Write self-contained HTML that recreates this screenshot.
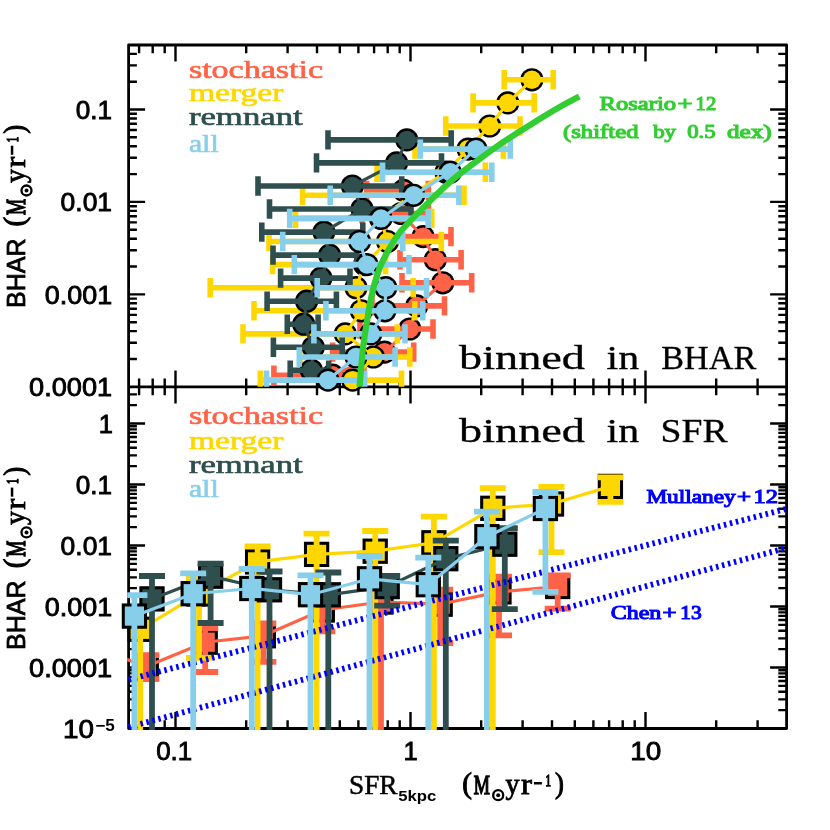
<!DOCTYPE html>
<html><head><meta charset="utf-8"><title>BHAR vs SFR</title>
<style>html,body{margin:0;padding:0;background:#fff}svg{display:block}text{font-family:"Liberation Sans",sans-serif}.sb{font-family:"Liberation Serif",serif;font-weight:bold}.sr{font-family:"Liberation Serif",serif}.nb{font-family:"Liberation Sans",sans-serif;font-weight:bold}</style></head><body>
<svg width="830" height="830" viewBox="0 0 830 830" style="will-change:transform">
<rect width="830" height="830" fill="#fff"/>
<defs><clipPath id="cu"><rect x="127.19999999999999" y="45.0" width="660.8" height="341.7"/></clipPath><clipPath id="cl"><rect x="127.19999999999999" y="386.9" width="660.8" height="343.0"/></clipPath></defs>
<path d="M128.6 45.0H786.6V728.5H128.6Z M128.6 386.9H786.6" stroke="#000" stroke-width="2.8" fill="none" stroke-linejoin="round"/>
<path d="M175.5 45.0v16.5M175.5 370.4v33.0M175.5 728.5v-16.5M410.5 45.0v16.5M410.5 370.4v33.0M410.5 728.5v-16.5M645.5 45.0v16.5M645.5 370.4v33.0M645.5 728.5v-16.5M128.6 294.4h16.5M786.6 294.4h-16.5M128.6 201.9h16.5M786.6 201.9h-16.5M128.6 109.5h16.5M786.6 109.5h-16.5M128.6 667.5h16.5M786.6 667.5h-16.5M128.6 606.5h16.5M786.6 606.5h-16.5M128.6 545.5h16.5M786.6 545.5h-16.5M128.6 484.5h16.5M786.6 484.5h-16.5M128.6 423.5h16.5M786.6 423.5h-16.5" stroke="#000" stroke-width="2.4" fill="none"/>
<path d="M139.1 45.0v8.3M139.1 378.6v16.6M139.1 728.5v-8.3M152.7 45.0v8.3M152.7 378.6v16.6M152.7 728.5v-8.3M164.7 45.0v8.3M164.7 378.6v16.6M164.7 728.5v-8.3M246.2 45.0v8.3M246.2 378.6v16.6M246.2 728.5v-8.3M287.6 45.0v8.3M287.6 378.6v16.6M287.6 728.5v-8.3M317.0 45.0v8.3M317.0 378.6v16.6M317.0 728.5v-8.3M339.8 45.0v8.3M339.8 378.6v16.6M339.8 728.5v-8.3M358.4 45.0v8.3M358.4 378.6v16.6M358.4 728.5v-8.3M374.1 45.0v8.3M374.1 378.6v16.6M374.1 728.5v-8.3M387.7 45.0v8.3M387.7 378.6v16.6M387.7 728.5v-8.3M399.7 45.0v8.3M399.7 378.6v16.6M399.7 728.5v-8.3M481.2 45.0v8.3M481.2 378.6v16.6M481.2 728.5v-8.3M522.6 45.0v8.3M522.6 378.6v16.6M522.6 728.5v-8.3M552.0 45.0v8.3M552.0 378.6v16.6M552.0 728.5v-8.3M574.8 45.0v8.3M574.8 378.6v16.6M574.8 728.5v-8.3M593.4 45.0v8.3M593.4 378.6v16.6M593.4 728.5v-8.3M609.1 45.0v8.3M609.1 378.6v16.6M609.1 728.5v-8.3M622.7 45.0v8.3M622.7 378.6v16.6M622.7 728.5v-8.3M634.7 45.0v8.3M634.7 378.6v16.6M634.7 728.5v-8.3M716.2 45.0v8.3M716.2 378.6v16.6M716.2 728.5v-8.3M757.6 45.0v8.3M757.6 378.6v16.6M757.6 728.5v-8.3M128.6 359.0h8.3M786.6 359.0h-8.3M128.6 342.7h8.3M786.6 342.7h-8.3M128.6 331.1h8.3M786.6 331.1h-8.3M128.6 322.2h8.3M786.6 322.2h-8.3M128.6 314.9h8.3M786.6 314.9h-8.3M128.6 308.7h8.3M786.6 308.7h-8.3M128.6 303.3h8.3M786.6 303.3h-8.3M128.6 298.6h8.3M786.6 298.6h-8.3M128.6 266.5h8.3M786.6 266.5h-8.3M128.6 250.3h8.3M786.6 250.3h-8.3M128.6 238.7h8.3M786.6 238.7h-8.3M128.6 229.8h8.3M786.6 229.8h-8.3M128.6 222.4h8.3M786.6 222.4h-8.3M128.6 216.2h8.3M786.6 216.2h-8.3M128.6 210.9h8.3M786.6 210.9h-8.3M128.6 206.2h8.3M786.6 206.2h-8.3M128.6 174.1h8.3M786.6 174.1h-8.3M128.6 157.8h8.3M786.6 157.8h-8.3M128.6 146.3h8.3M786.6 146.3h-8.3M128.6 137.3h8.3M786.6 137.3h-8.3M128.6 130.0h8.3M786.6 130.0h-8.3M128.6 123.8h8.3M786.6 123.8h-8.3M128.6 118.5h8.3M786.6 118.5h-8.3M128.6 113.7h8.3M786.6 113.7h-8.3M128.6 81.7h8.3M786.6 81.7h-8.3M128.6 65.4h8.3M786.6 65.4h-8.3M128.6 53.9h8.3M786.6 53.9h-8.3M128.6 710.1h8.3M786.6 710.1h-8.3M128.6 699.4h8.3M786.6 699.4h-8.3M128.6 691.8h8.3M786.6 691.8h-8.3M128.6 685.9h8.3M786.6 685.9h-8.3M128.6 681.0h8.3M786.6 681.0h-8.3M128.6 676.9h8.3M786.6 676.9h-8.3M128.6 673.4h8.3M786.6 673.4h-8.3M128.6 670.3h8.3M786.6 670.3h-8.3M128.6 649.1h8.3M786.6 649.1h-8.3M128.6 638.4h8.3M786.6 638.4h-8.3M128.6 630.8h8.3M786.6 630.8h-8.3M128.6 624.9h8.3M786.6 624.9h-8.3M128.6 620.0h8.3M786.6 620.0h-8.3M128.6 615.9h8.3M786.6 615.9h-8.3M128.6 612.4h8.3M786.6 612.4h-8.3M128.6 609.3h8.3M786.6 609.3h-8.3M128.6 588.1h8.3M786.6 588.1h-8.3M128.6 577.4h8.3M786.6 577.4h-8.3M128.6 569.8h8.3M786.6 569.8h-8.3M128.6 563.9h8.3M786.6 563.9h-8.3M128.6 559.0h8.3M786.6 559.0h-8.3M128.6 554.9h8.3M786.6 554.9h-8.3M128.6 551.4h8.3M786.6 551.4h-8.3M128.6 548.3h8.3M786.6 548.3h-8.3M128.6 527.1h8.3M786.6 527.1h-8.3M128.6 516.4h8.3M786.6 516.4h-8.3M128.6 508.8h8.3M786.6 508.8h-8.3M128.6 502.9h8.3M786.6 502.9h-8.3M128.6 498.0h8.3M786.6 498.0h-8.3M128.6 493.9h8.3M786.6 493.9h-8.3M128.6 490.4h8.3M786.6 490.4h-8.3M128.6 487.3h8.3M786.6 487.3h-8.3M128.6 466.1h8.3M786.6 466.1h-8.3M128.6 455.4h8.3M786.6 455.4h-8.3M128.6 447.8h8.3M786.6 447.8h-8.3M128.6 441.9h8.3M786.6 441.9h-8.3M128.6 437.0h8.3M786.6 437.0h-8.3M128.6 432.9h8.3M786.6 432.9h-8.3M128.6 429.4h8.3M786.6 429.4h-8.3M128.6 426.3h8.3M786.6 426.3h-8.3M128.6 405.1h8.3M786.6 405.1h-8.3M128.6 394.4h8.3M786.6 394.4h-8.3" stroke="#000" stroke-width="2.4" fill="none"/>
<text class="sr" x="188.9" y="77.9" font-size="26" fill="#FF6347" stroke="#FF6347" stroke-width="0.65" textLength="134.2" lengthAdjust="spacingAndGlyphs">stochastic</text>
<text class="sr" x="188.9" y="101.4" font-size="26" fill="#FFD700" stroke="#FFD700" stroke-width="0.65" textLength="94.6" lengthAdjust="spacingAndGlyphs">merger</text>
<text class="sr" x="188.9" y="124.7" font-size="26" fill="#2F4F4F" stroke="#2F4F4F" stroke-width="0.65" textLength="113.8" lengthAdjust="spacingAndGlyphs">remnant</text>
<text class="sr" x="188.9" y="152.1" font-size="26" fill="#87CEEB" stroke="#87CEEB" stroke-width="0.65" textLength="29.8" lengthAdjust="spacingAndGlyphs">all</text>
<text class="sr" x="188.9" y="424.2" font-size="26" fill="#FF6347" stroke="#FF6347" stroke-width="0.65" textLength="134.2" lengthAdjust="spacingAndGlyphs">stochastic</text>
<text class="sr" x="188.9" y="448.5" font-size="26" fill="#FFD700" stroke="#FFD700" stroke-width="0.65" textLength="94.6" lengthAdjust="spacingAndGlyphs">merger</text>
<text class="sr" x="188.9" y="472.6" font-size="26" fill="#2F4F4F" stroke="#2F4F4F" stroke-width="0.65" textLength="113.8" lengthAdjust="spacingAndGlyphs">remnant</text>
<text class="sr" x="188.9" y="497.4" font-size="26" fill="#87CEEB" stroke="#87CEEB" stroke-width="0.65" textLength="29.8" lengthAdjust="spacingAndGlyphs">all</text>
<text class="sr" x="599.6" y="110.2" font-size="19" fill="#32CD32" stroke="#32CD32" stroke-width="1.1" textLength="76.5" lengthAdjust="spacingAndGlyphs">Rosario</text>
<text class="sr" x="677.6" y="110.2" font-size="19" fill="#32CD32" stroke="#32CD32" stroke-width="1.1" textLength="15.0" lengthAdjust="spacingAndGlyphs">+</text>
<text class="sr" x="695.6" y="110.2" font-size="19" fill="#32CD32" stroke="#32CD32" stroke-width="1.1" textLength="20.6" lengthAdjust="spacingAndGlyphs">12</text>
<text class="sr" x="563.0" y="137.6" font-size="19" fill="#32CD32" stroke="#32CD32" stroke-width="1.1" textLength="75.5" lengthAdjust="spacingAndGlyphs">(shifted</text>
<text class="sr" x="653.2" y="137.6" font-size="19" fill="#32CD32" stroke="#32CD32" stroke-width="1.1" textLength="22.8" lengthAdjust="spacingAndGlyphs">by</text>
<text class="sr" x="687.2" y="137.6" font-size="19" fill="#32CD32" stroke="#32CD32" stroke-width="1.1" textLength="28.4" lengthAdjust="spacingAndGlyphs">0.5</text>
<text class="sr" x="727.0" y="137.6" font-size="19" fill="#32CD32" stroke="#32CD32" stroke-width="1.1" textLength="44.6" lengthAdjust="spacingAndGlyphs">dex)</text>
<text class="sr" x="646.4" y="502.9" font-size="19" fill="#0000FF" stroke="#0000FF" stroke-width="1.1" textLength="89.3" lengthAdjust="spacingAndGlyphs">Mullaney</text>
<text class="sr" x="737.0" y="502.9" font-size="19" fill="#0000FF" stroke="#0000FF" stroke-width="1.1" textLength="14.0" lengthAdjust="spacingAndGlyphs">+</text>
<text class="sr" x="753.6" y="502.9" font-size="19" fill="#0000FF" stroke="#0000FF" stroke-width="1.1" textLength="24.4" lengthAdjust="spacingAndGlyphs">12</text>
<text class="sr" x="610.8" y="619.0" font-size="19" fill="#0000FF" stroke="#0000FF" stroke-width="1.1" textLength="50.5" lengthAdjust="spacingAndGlyphs">Chen</text>
<text class="sr" x="662.6" y="619.0" font-size="19" fill="#0000FF" stroke="#0000FF" stroke-width="1.1" textLength="14.0" lengthAdjust="spacingAndGlyphs">+</text>
<text class="sr" x="680.3" y="619.0" font-size="19" fill="#0000FF" stroke="#0000FF" stroke-width="1.1" textLength="21.4" lengthAdjust="spacingAndGlyphs">13</text>
<text class="sr" x="459.0" y="368.7" font-size="34.5" fill="#000" stroke="#000" stroke-width="0.3" textLength="126.0" lengthAdjust="spacingAndGlyphs">binned</text>
<text class="sr" x="606.6" y="368.7" font-size="34.5" fill="#000" stroke="#000" stroke-width="0.3" textLength="32.6" lengthAdjust="spacingAndGlyphs">in</text>
<text class="sr" x="661.2" y="368.7" font-size="34.5" fill="#000" stroke="#000" stroke-width="0.3" textLength="95.0" lengthAdjust="spacingAndGlyphs">BHAR</text>
<text class="sr" x="459.0" y="442.0" font-size="34.5" fill="#000" stroke="#000" stroke-width="0.3" textLength="126.0" lengthAdjust="spacingAndGlyphs">binned</text>
<text class="sr" x="606.6" y="442.0" font-size="34.5" fill="#000" stroke="#000" stroke-width="0.3" textLength="32.6" lengthAdjust="spacingAndGlyphs">in</text>
<text class="sr" x="660.5" y="442.0" font-size="34.5" fill="#000" stroke="#000" stroke-width="0.3" textLength="67.0" lengthAdjust="spacingAndGlyphs">SFR</text>
<text x="75.8" y="118.7" font-size="25.5" fill="#000" stroke="#000" stroke-width="0.85" textLength="36.3" lengthAdjust="spacingAndGlyphs">0.1</text>
<text x="60.6" y="211.1" font-size="25.5" fill="#000" stroke="#000" stroke-width="0.85" textLength="51.5" lengthAdjust="spacingAndGlyphs">0.01</text>
<text x="44.8" y="303.6" font-size="25.5" fill="#000" stroke="#000" stroke-width="0.85" textLength="67.3" lengthAdjust="spacingAndGlyphs">0.001</text>
<text x="29.1" y="396.1" font-size="25.5" fill="#000" stroke="#000" stroke-width="0.85" textLength="83.0" lengthAdjust="spacingAndGlyphs">0.0001</text>
<text x="98.7" y="433.0" font-size="25.5" fill="#000" stroke="#000" stroke-width="0.85">1</text>
<text x="75.8" y="493.7" font-size="25.5" fill="#000" stroke="#000" stroke-width="0.85" textLength="36.3" lengthAdjust="spacingAndGlyphs">0.1</text>
<text x="60.6" y="554.7" font-size="25.5" fill="#000" stroke="#000" stroke-width="0.85" textLength="51.5" lengthAdjust="spacingAndGlyphs">0.01</text>
<text x="44.8" y="615.7" font-size="25.5" fill="#000" stroke="#000" stroke-width="0.85" textLength="67.3" lengthAdjust="spacingAndGlyphs">0.001</text>
<text x="29.1" y="677.1" font-size="25.5" fill="#000" stroke="#000" stroke-width="0.85" textLength="83.0" lengthAdjust="spacingAndGlyphs">0.0001</text>
<text x="63.0" y="738.2" font-size="25.5" fill="#000" stroke="#000" stroke-width="0.85" textLength="31" lengthAdjust="spacingAndGlyphs">10</text>
<text class="nb" x="95.2" y="730.6" font-size="16" fill="#000" textLength="19.5" lengthAdjust="spacingAndGlyphs">−5</text>
<text x="156.2" y="760.2" font-size="25.5" fill="#000" stroke="#000" stroke-width="0.85" textLength="36" lengthAdjust="spacingAndGlyphs">0.1</text>
<text x="403.4" y="760.2" font-size="25.5" fill="#000" stroke="#000" stroke-width="0.85">1</text>
<text x="630.2" y="760.2" font-size="25.5" fill="#000" stroke="#000" stroke-width="0.85" textLength="31" lengthAdjust="spacingAndGlyphs">10</text>
<g transform="translate(24.1 306.7) rotate(-90)">
<text x="-1.3" y="0.7" font-size="26" stroke="#000" stroke-width="0.8" textLength="69.5" lengthAdjust="spacingAndGlyphs">BHAR</text>
<text class="sr" transform="translate(85.1 0.3) scale(1.0 1)" text-anchor="middle" font-size="29" stroke="#000" stroke-width="1.0">(</text>
<text class="sr" transform="translate(99.8 0.7) scale(0.66 1)" text-anchor="middle" font-size="27.5" stroke="#000" stroke-width="1.5">M</text>
<circle cx="116.2" cy="2.4" r="5.0" fill="none" stroke="#000" stroke-width="2.3"/><circle cx="116.2" cy="2.4" r="2.0" fill="#000"/>
<text class="sr" transform="translate(130.6 0.7) scale(0.98 1)" text-anchor="middle" font-size="28.5" stroke="#000" stroke-width="0.8">y</text>
<text class="sr" transform="translate(144.4 0.7) scale(1.16 1)" text-anchor="middle" font-size="28.5" stroke="#000" stroke-width="0.8">r</text>
<rect x="151.9" y="-13.3" width="9.1" height="2.5" fill="#000"/>
<text class="sr" transform="translate(167.2 -6.4) scale(0.66 1)" text-anchor="middle" font-size="16.5" stroke="#000" stroke-width="1.4">1</text>
<text class="sr" transform="translate(177.4 0.3) scale(0.92 1)" text-anchor="middle" font-size="29" stroke="#000" stroke-width="1.0">)</text>
</g>
<g transform="translate(24.1 648.6) rotate(-90)">
<text x="-1.3" y="0.7" font-size="26" stroke="#000" stroke-width="0.8" textLength="69.5" lengthAdjust="spacingAndGlyphs">BHAR</text>
<text class="sr" transform="translate(85.1 0.3) scale(1.0 1)" text-anchor="middle" font-size="29" stroke="#000" stroke-width="1.0">(</text>
<text class="sr" transform="translate(99.8 0.7) scale(0.66 1)" text-anchor="middle" font-size="27.5" stroke="#000" stroke-width="1.5">M</text>
<circle cx="116.2" cy="2.4" r="5.0" fill="none" stroke="#000" stroke-width="2.3"/><circle cx="116.2" cy="2.4" r="2.0" fill="#000"/>
<text class="sr" transform="translate(130.6 0.7) scale(0.98 1)" text-anchor="middle" font-size="28.5" stroke="#000" stroke-width="0.8">y</text>
<text class="sr" transform="translate(144.4 0.7) scale(1.16 1)" text-anchor="middle" font-size="28.5" stroke="#000" stroke-width="0.8">r</text>
<rect x="151.9" y="-13.3" width="9.1" height="2.5" fill="#000"/>
<text class="sr" transform="translate(167.2 -6.4) scale(0.66 1)" text-anchor="middle" font-size="16.5" stroke="#000" stroke-width="1.4">1</text>
<text class="sr" transform="translate(177.4 0.3) scale(0.92 1)" text-anchor="middle" font-size="29" stroke="#000" stroke-width="1.0">)</text>
</g>
<text class="sr" x="349.0" y="793.5" font-size="26.5" textLength="48.5" lengthAdjust="spacingAndGlyphs" stroke="#000" stroke-width="0.5">SFR</text>
<text class="nb" x="398.2" y="800.9" font-size="15" textLength="38.2" lengthAdjust="spacingAndGlyphs">5kpc</text>
<g transform="translate(382.0 792.8)">
<text class="sr" transform="translate(85.1 0.3) scale(1.0 1)" text-anchor="middle" font-size="29" stroke="#000" stroke-width="1.0">(</text>
<text class="sr" transform="translate(99.8 0.7) scale(0.66 1)" text-anchor="middle" font-size="27.5" stroke="#000" stroke-width="1.5">M</text>
<circle cx="116.2" cy="2.4" r="5.0" fill="none" stroke="#000" stroke-width="2.3"/><circle cx="116.2" cy="2.4" r="2.0" fill="#000"/>
<text class="sr" transform="translate(130.6 0.7) scale(0.98 1)" text-anchor="middle" font-size="28.5" stroke="#000" stroke-width="0.8">y</text>
<text class="sr" transform="translate(144.4 0.7) scale(1.16 1)" text-anchor="middle" font-size="28.5" stroke="#000" stroke-width="0.8">r</text>
<rect x="151.9" y="-10.8" width="8.0" height="2.5" fill="#000"/>
<text class="sr" transform="translate(166.1 -6.4) scale(0.66 1)" text-anchor="middle" font-size="16.5" stroke="#000" stroke-width="1.4">1</text>
<text class="sr" transform="translate(177.4 0.3) scale(0.92 1)" text-anchor="middle" font-size="29" stroke="#000" stroke-width="1.0">)</text>
</g>
<rect x="133.65" y="653.95" width="25.3" height="25.3" fill="#000"/>
<rect x="136.7" y="657.0" width="19.2" height="19.2" fill="#FF6347"/>
<rect x="192.55" y="629.55" width="25.3" height="25.3" fill="#000"/>
<rect x="195.6" y="632.6" width="19.2" height="19.2" fill="#FF6347"/>
<rect x="250.65" y="623.15" width="25.3" height="25.3" fill="#000"/>
<rect x="253.7" y="626.2" width="19.2" height="19.2" fill="#FF6347"/>
<rect x="309.65" y="597.35" width="25.3" height="25.3" fill="#000"/>
<rect x="312.7" y="600.4" width="19.2" height="19.2" fill="#FF6347"/>
<rect x="368.35" y="589.35" width="25.3" height="25.3" fill="#000"/>
<rect x="371.4" y="592.4" width="19.2" height="19.2" fill="#FF6347"/>
<rect x="427.55" y="591.55" width="25.3" height="25.3" fill="#000"/>
<rect x="430.6" y="594.6" width="19.2" height="19.2" fill="#FF6347"/>
<rect x="486.35" y="579.25" width="25.3" height="25.3" fill="#000"/>
<rect x="489.4" y="582.3" width="19.2" height="19.2" fill="#FF6347"/>
<rect x="545.05" y="573.85" width="25.3" height="25.3" fill="#000"/>
<rect x="548.1" y="576.9" width="19.2" height="19.2" fill="#FF6347"/>
<g clip-path="url(#cl)"><path d="M146.3 655.1V679.1M133.3 655.1H159.3M133.3 679.1H159.3M205.2 628.2V672.0M192.2 628.2H218.2M192.2 672.0H218.2M263.3 623.5V661.9M250.3 623.5H276.3M250.3 661.9H276.3M322.3 598.0V631.4M309.3 598.0H335.3M309.3 631.4H335.3M381.0 592.0V740.0M368.0 592.0H394.0M440.2 589.7V643.0M427.2 589.7H453.2M427.2 643.0H453.2M499.0 576.6V635.3M486.0 576.6H512.0M486.0 635.3H512.0M557.7 575.3V608.6M544.7 575.3H570.7M544.7 608.6H570.7" stroke="#FF6347" stroke-width="5.8" fill="none"/>
<polyline points="87.5,644.9 146.3,666.6 205.2,642.2 263.3,635.8 322.3,610.0 381.0,602.0 440.2,604.2 499.0,591.9 557.7,586.5" stroke="#FF6347" stroke-width="3.2" fill="none"/></g>
<rect x="127.55" y="616.65" width="25.3" height="25.3" fill="#000"/>
<rect x="130.6" y="619.7" width="19.2" height="19.2" fill="#FFD700"/>
<rect x="186.35" y="581.35" width="25.3" height="25.3" fill="#000"/>
<rect x="189.4" y="584.4" width="19.2" height="19.2" fill="#FFD700"/>
<rect x="244.95" y="549.25" width="25.3" height="25.3" fill="#000"/>
<rect x="248.0" y="552.3" width="19.2" height="19.2" fill="#FFD700"/>
<rect x="303.95" y="541.75" width="25.3" height="25.3" fill="#000"/>
<rect x="307.0" y="544.8" width="19.2" height="19.2" fill="#FFD700"/>
<rect x="362.55" y="538.55" width="25.3" height="25.3" fill="#000"/>
<rect x="365.6" y="541.6" width="19.2" height="19.2" fill="#FFD700"/>
<rect x="421.25" y="530.15" width="25.3" height="25.3" fill="#000"/>
<rect x="424.3" y="533.2" width="19.2" height="19.2" fill="#FFD700"/>
<rect x="480.15" y="495.65" width="25.3" height="25.3" fill="#000"/>
<rect x="483.2" y="498.7" width="19.2" height="19.2" fill="#FFD700"/>
<rect x="538.85" y="491.35" width="25.3" height="25.3" fill="#000"/>
<rect x="541.9" y="494.4" width="19.2" height="19.2" fill="#FFD700"/>
<rect x="597.75" y="473.75" width="25.3" height="25.3" fill="#000"/>
<rect x="600.8" y="476.8" width="19.2" height="19.2" fill="#FFD700"/>
<g clip-path="url(#cl)"><path d="M140.2 608.0V740.0M127.2 608.0H153.2M199.0 578.5V657.8M186.0 578.5H212.0M186.0 657.8H212.0M257.6 546.4V740.0M244.6 546.4H270.6M316.6 533.6V740.0M303.6 533.6H329.6M375.2 531.0V740.0M362.2 531.0H388.2M433.9 516.6V740.0M420.9 516.6H446.9M492.8 488.1V740.0M479.8 488.1H505.8M551.5 487.0V552.1M538.5 487.0H564.5M538.5 552.1H564.5M610.4 477.3V501.9M597.4 477.3H623.4M597.4 501.9H623.4" stroke="#FFD700" stroke-width="5.8" fill="none"/>
<polyline points="140.2,629.3 199.0,594.0 257.6,561.9 316.6,554.4 375.2,551.2 433.9,542.8 492.8,508.3 551.5,504.0 610.4,486.4" stroke="#FFD700" stroke-width="3.2" fill="none"/></g>
<rect x="139.35" y="586.25" width="25.3" height="25.3" fill="#000"/>
<rect x="142.4" y="589.3" width="19.2" height="19.2" fill="#2F4F4F"/>
<rect x="197.95" y="563.55" width="25.3" height="25.3" fill="#000"/>
<rect x="201.0" y="566.6" width="19.2" height="19.2" fill="#2F4F4F"/>
<rect x="256.85" y="577.15" width="25.3" height="25.3" fill="#000"/>
<rect x="259.9" y="580.2" width="19.2" height="19.2" fill="#2F4F4F"/>
<rect x="315.65" y="582.15" width="25.3" height="25.3" fill="#000"/>
<rect x="318.7" y="585.2" width="19.2" height="19.2" fill="#2F4F4F"/>
<rect x="374.55" y="573.95" width="25.3" height="25.3" fill="#000"/>
<rect x="377.6" y="577.0" width="19.2" height="19.2" fill="#2F4F4F"/>
<rect x="433.15" y="546.05" width="25.3" height="25.3" fill="#000"/>
<rect x="436.2" y="549.1" width="19.2" height="19.2" fill="#2F4F4F"/>
<rect x="492.15" y="531.55" width="25.3" height="25.3" fill="#000"/>
<rect x="495.2" y="534.6" width="19.2" height="19.2" fill="#2F4F4F"/>
<g clip-path="url(#cl)"><path d="M152.0 576.0V740.0M139.0 576.0H165.0M210.6 563.7V623.0M197.6 563.7H223.6M197.6 623.0H223.6M269.5 571.5V740.0M256.5 571.5H282.5M328.3 572.5V740.0M315.3 572.5H341.3M387.2 576.0V605.7M374.2 576.0H400.2M374.2 605.7H400.2M445.8 540.7V740.0M432.8 540.7H458.8M504.8 528.2V609.2M491.8 528.2H517.8M491.8 609.2H517.8" stroke="#2F4F4F" stroke-width="5.8" fill="none"/>
<polyline points="152.0,598.9 210.6,576.2 269.5,589.8 328.3,594.8 387.2,586.6 445.8,558.7 504.8,544.2" stroke="#2F4F4F" stroke-width="3.2" fill="none"/></g>
<path d="M128.6 679.6L786.6 508.8M128.6 727.2L786.6 547.9" stroke="#0000FF" stroke-width="5.8" stroke-dasharray="2.5 3.65" fill="none" clip-path="url(#cl)"/>
<rect x="121.75" y="603.45" width="25.3" height="25.3" fill="#000"/>
<rect x="124.8" y="606.5" width="19.2" height="19.2" fill="#87CEEB"/>
<rect x="180.55" y="581.05" width="25.3" height="25.3" fill="#000"/>
<rect x="183.6" y="584.1" width="19.2" height="19.2" fill="#87CEEB"/>
<rect x="239.15" y="575.85" width="25.3" height="25.3" fill="#000"/>
<rect x="242.2" y="578.9" width="19.2" height="19.2" fill="#87CEEB"/>
<rect x="297.85" y="582.05" width="25.3" height="25.3" fill="#000"/>
<rect x="300.9" y="585.1" width="19.2" height="19.2" fill="#87CEEB"/>
<rect x="356.85" y="566.15" width="25.3" height="25.3" fill="#000"/>
<rect x="359.9" y="569.2" width="19.2" height="19.2" fill="#87CEEB"/>
<rect x="415.65" y="572.05" width="25.3" height="25.3" fill="#000"/>
<rect x="418.7" y="575.1" width="19.2" height="19.2" fill="#87CEEB"/>
<rect x="474.25" y="524.05" width="25.3" height="25.3" fill="#000"/>
<rect x="477.3" y="527.1" width="19.2" height="19.2" fill="#87CEEB"/>
<rect x="532.75" y="495.85" width="25.3" height="25.3" fill="#000"/>
<rect x="535.8" y="498.9" width="19.2" height="19.2" fill="#87CEEB"/>
<g clip-path="url(#cl)"><path d="M134.4 595.1V740.0M121.4 595.1H147.4M193.2 573.4V740.0M180.2 573.4H206.2M251.8 569.0V740.0M238.8 569.0H264.8M310.5 575.3V740.0M297.5 575.3H323.5M369.5 556.0V740.0M356.5 556.0H382.5M428.3 557.6V740.0M415.3 557.6H441.3M486.9 511.6V740.0M473.9 511.6H499.9M545.4 492.0V591.9M532.4 492.0H558.4M532.4 591.9H558.4" stroke="#87CEEB" stroke-width="5.8" fill="none"/>
<polyline points="134.4,616.1 193.2,593.7 251.8,588.5 310.5,594.7 369.5,578.8 428.3,584.7 486.9,536.7 545.4,508.5" stroke="#87CEEB" stroke-width="3.2" fill="none"/></g>
<circle cx="403.5" cy="190.4" r="11.6" fill="#000"/>
<circle cx="403.5" cy="190.4" r="9.2" fill="#FF6347"/>
<circle cx="401.0" cy="213.5" r="11.6" fill="#000"/>
<circle cx="401.0" cy="213.5" r="9.2" fill="#FF6347"/>
<circle cx="423.1" cy="236.6" r="11.6" fill="#000"/>
<circle cx="423.1" cy="236.6" r="9.2" fill="#FF6347"/>
<circle cx="435.3" cy="259.7" r="11.6" fill="#000"/>
<circle cx="435.3" cy="259.7" r="9.2" fill="#FF6347"/>
<circle cx="442.8" cy="282.8" r="11.6" fill="#000"/>
<circle cx="442.8" cy="282.8" r="9.2" fill="#FF6347"/>
<circle cx="416.7" cy="305.9" r="11.6" fill="#000"/>
<circle cx="416.7" cy="305.9" r="9.2" fill="#FF6347"/>
<circle cx="409.8" cy="329.0" r="11.6" fill="#000"/>
<circle cx="409.8" cy="329.0" r="9.2" fill="#FF6347"/>
<circle cx="384.5" cy="352.1" r="11.6" fill="#000"/>
<circle cx="384.5" cy="352.1" r="9.2" fill="#FF6347"/>
<circle cx="332.5" cy="375.2" r="11.6" fill="#000"/>
<circle cx="332.5" cy="375.2" r="9.2" fill="#FF6347"/>
<g clip-path="url(#cu)"><path d="M366.7 190.4H428.4M366.7 180.7V200.1M428.4 180.7V200.1M362.0 213.5H428.5M362.0 203.8V223.2M428.5 203.8V223.2M385.0 236.6H451.0M385.0 226.9V246.3M451.0 226.9V246.3M400.0 259.7H461.1M400.0 250.0V269.4M461.1 250.0V269.4M402.0 282.8H471.7M402.0 273.1V292.5M471.7 273.1V292.5M372.0 305.9H444.5M372.0 296.2V315.6M444.5 296.2V315.6M360.0 329.0H433.0M360.0 319.3V338.7M433.0 319.3V338.7M332.6 352.1H413.7M332.6 342.4V361.8M413.7 342.4V361.8M273.9 375.2H364.0M273.9 365.5V384.9M364.0 365.5V384.9" stroke="#FF6347" stroke-width="5.6" fill="none"/>
<polyline points="403.5,190.4 401.0,213.5 423.1,236.6 435.3,259.7 442.8,282.8 416.7,305.9 409.8,329.0 384.5,352.1 332.5,375.2" stroke="#FF6347" stroke-width="3.2" fill="none"/></g>
<circle cx="531.9" cy="79.8" r="11.6" fill="#000"/>
<circle cx="531.9" cy="79.8" r="9.2" fill="#FFD700"/>
<circle cx="507.8" cy="102.9" r="11.6" fill="#000"/>
<circle cx="507.8" cy="102.9" r="9.2" fill="#FFD700"/>
<circle cx="489.7" cy="126.0" r="11.6" fill="#000"/>
<circle cx="489.7" cy="126.0" r="9.2" fill="#FFD700"/>
<circle cx="468.0" cy="149.1" r="11.6" fill="#000"/>
<circle cx="468.0" cy="149.1" r="9.2" fill="#FFD700"/>
<circle cx="446.0" cy="172.2" r="11.6" fill="#000"/>
<circle cx="446.0" cy="172.2" r="9.2" fill="#FFD700"/>
<circle cx="411.5" cy="195.3" r="11.6" fill="#000"/>
<circle cx="411.5" cy="195.3" r="9.2" fill="#FFD700"/>
<circle cx="380.5" cy="218.4" r="11.6" fill="#000"/>
<circle cx="380.5" cy="218.4" r="9.2" fill="#FFD700"/>
<circle cx="387.5" cy="241.5" r="11.6" fill="#000"/>
<circle cx="387.5" cy="241.5" r="9.2" fill="#FFD700"/>
<circle cx="364.5" cy="264.6" r="11.6" fill="#000"/>
<circle cx="364.5" cy="264.6" r="9.2" fill="#FFD700"/>
<circle cx="356.0" cy="287.7" r="11.6" fill="#000"/>
<circle cx="356.0" cy="287.7" r="9.2" fill="#FFD700"/>
<circle cx="361.3" cy="310.8" r="11.6" fill="#000"/>
<circle cx="361.3" cy="310.8" r="9.2" fill="#FFD700"/>
<circle cx="345.3" cy="333.9" r="11.6" fill="#000"/>
<circle cx="345.3" cy="333.9" r="9.2" fill="#FFD700"/>
<circle cx="373.4" cy="357.0" r="11.6" fill="#000"/>
<circle cx="373.4" cy="357.0" r="9.2" fill="#FFD700"/>
<circle cx="352.6" cy="380.1" r="11.6" fill="#000"/>
<circle cx="352.6" cy="380.1" r="9.2" fill="#FFD700"/>
<g clip-path="url(#cu)"><path d="M504.2 79.8H553.2M504.2 70.1V89.5M553.2 70.1V89.5M473.1 102.9H534.2M473.1 93.2V112.6M534.2 93.2V112.6M445.8 126.0H520.0M445.8 116.3V135.7M520.0 116.3V135.7M415.0 149.1H503.4M415.0 139.4V158.8M503.4 139.4V158.8M377.0 172.2H485.4M377.0 162.5V181.9M485.4 162.5V181.9M302.6 195.3H464.0M302.6 185.6V205.0M464.0 185.6V205.0M295.5 218.4H431.8M295.5 208.7V228.1M431.8 208.7V228.1M269.0 241.5H441.3M269.0 231.8V251.2M441.3 231.8V251.2M272.6 264.6H385.5M272.6 254.9V274.3M385.5 254.9V274.3M210.2 287.7H413.2M210.2 278.0V297.4M413.2 278.0V297.4M254.0 310.8H414.7M254.0 301.1V320.5M414.7 301.1V320.5M243.0 333.9H397.3M243.0 324.2V343.6M397.3 324.2V343.6M300.0 357.0H409.8M300.0 347.3V366.7M409.8 347.3V366.7M260.3 380.1H401.5M260.3 370.4V389.8M401.5 370.4V389.8" stroke="#FFD700" stroke-width="5.6" fill="none"/>
<polyline points="531.9,79.8 507.8,102.9 489.7,126.0 468.0,149.1 446.0,172.2 411.5,195.3 380.5,218.4 387.5,241.5 364.5,264.6 356.0,287.7 361.3,310.8 345.3,333.9 373.4,357.0 352.6,380.1" stroke="#FFD700" stroke-width="3.2" fill="none"/></g>
<circle cx="406.8" cy="139.9" r="11.6" fill="#000"/>
<circle cx="406.8" cy="139.9" r="9.2" fill="#2F4F4F"/>
<circle cx="396.6" cy="162.9" r="11.6" fill="#000"/>
<circle cx="396.6" cy="162.9" r="9.2" fill="#2F4F4F"/>
<circle cx="352.4" cy="186.0" r="11.6" fill="#000"/>
<circle cx="352.4" cy="186.0" r="9.2" fill="#2F4F4F"/>
<circle cx="362.0" cy="209.0" r="11.6" fill="#000"/>
<circle cx="362.0" cy="209.0" r="9.2" fill="#2F4F4F"/>
<circle cx="323.9" cy="232.1" r="11.6" fill="#000"/>
<circle cx="323.9" cy="232.1" r="9.2" fill="#2F4F4F"/>
<circle cx="329.6" cy="255.1" r="11.6" fill="#000"/>
<circle cx="329.6" cy="255.1" r="9.2" fill="#2F4F4F"/>
<circle cx="321.0" cy="278.1" r="11.6" fill="#000"/>
<circle cx="321.0" cy="278.1" r="9.2" fill="#2F4F4F"/>
<circle cx="306.6" cy="301.2" r="11.6" fill="#000"/>
<circle cx="306.6" cy="301.2" r="9.2" fill="#2F4F4F"/>
<circle cx="303.7" cy="324.2" r="11.6" fill="#000"/>
<circle cx="303.7" cy="324.2" r="9.2" fill="#2F4F4F"/>
<circle cx="313.3" cy="347.3" r="11.6" fill="#000"/>
<circle cx="313.3" cy="347.3" r="9.2" fill="#2F4F4F"/>
<circle cx="311.4" cy="370.3" r="11.6" fill="#000"/>
<circle cx="311.4" cy="370.3" r="9.2" fill="#2F4F4F"/>
<g clip-path="url(#cu)"><path d="M328.0 139.9H451.2M328.0 130.2V149.6M451.2 130.2V149.6M316.5 162.9H441.5M316.5 153.2V172.6M441.5 153.2V172.6M258.0 186.0H401.7M258.0 176.3V195.7M401.7 176.3V195.7M269.5 209.0H411.0M269.5 199.3V218.7M411.0 199.3V218.7M261.8 232.1H362.8M261.8 222.4V241.8M362.8 222.4V241.8M273.0 255.1H357.0M273.0 245.4V264.8M357.0 245.4V264.8M280.6 278.1H350.0M280.6 268.4V287.8M350.0 268.4V287.8M267.1 301.2H336.4M267.1 291.5V310.9M336.4 291.5V310.9M287.3 324.2H318.1M287.3 314.5V333.9M318.1 314.5V333.9M273.4 347.3H342.2M273.4 337.6V357.0M342.2 337.6V357.0M290.2 370.3H328.7M290.2 360.6V380.0M328.7 360.6V380.0" stroke="#2F4F4F" stroke-width="5.6" fill="none"/>
<polyline points="406.8,139.9 396.6,162.9 352.4,186.0 362.0,209.0 323.9,232.1 329.6,255.1 321.0,278.1 306.6,301.2 303.7,324.2 313.3,347.3 311.4,370.3" stroke="#2F4F4F" stroke-width="3.2" fill="none"/></g>
<circle cx="476.0" cy="149.1" r="11.6" fill="#000"/>
<circle cx="476.0" cy="149.1" r="9.2" fill="#87CEEB"/>
<circle cx="450.2" cy="172.2" r="11.6" fill="#000"/>
<circle cx="450.2" cy="172.2" r="9.2" fill="#87CEEB"/>
<circle cx="413.7" cy="195.3" r="11.6" fill="#000"/>
<circle cx="413.7" cy="195.3" r="9.2" fill="#87CEEB"/>
<circle cx="381.0" cy="218.4" r="11.6" fill="#000"/>
<circle cx="381.0" cy="218.4" r="9.2" fill="#87CEEB"/>
<circle cx="359.6" cy="241.5" r="11.6" fill="#000"/>
<circle cx="359.6" cy="241.5" r="9.2" fill="#87CEEB"/>
<circle cx="367.0" cy="264.6" r="11.6" fill="#000"/>
<circle cx="367.0" cy="264.6" r="9.2" fill="#87CEEB"/>
<circle cx="385.8" cy="287.7" r="11.6" fill="#000"/>
<circle cx="385.8" cy="287.7" r="9.2" fill="#87CEEB"/>
<circle cx="384.9" cy="310.8" r="11.6" fill="#000"/>
<circle cx="384.9" cy="310.8" r="9.2" fill="#87CEEB"/>
<circle cx="370.8" cy="333.9" r="11.6" fill="#000"/>
<circle cx="370.8" cy="333.9" r="9.2" fill="#87CEEB"/>
<circle cx="356.0" cy="357.0" r="11.6" fill="#000"/>
<circle cx="356.0" cy="357.0" r="9.2" fill="#87CEEB"/>
<circle cx="328.0" cy="380.1" r="11.6" fill="#000"/>
<circle cx="328.0" cy="380.1" r="9.2" fill="#87CEEB"/>
<g clip-path="url(#cu)"><path d="M420.3 149.1H510.3M420.3 139.4V158.8M510.3 139.4V158.8M382.5 172.2H491.8M382.5 162.5V181.9M491.8 162.5V181.9M330.2 195.3H458.9M330.2 185.6V205.0M458.9 185.6V205.0M289.7 218.4H428.2M289.7 208.7V228.1M428.2 208.7V228.1M282.7 241.5H402.8M282.7 231.8V251.2M402.8 231.8V251.2M294.3 264.6H409.0M294.3 254.9V274.3M409.0 254.9V274.3M317.2 287.7H426.5M317.2 278.0V297.4M426.5 278.0V297.4M325.9 310.8H422.8M325.9 301.1V320.5M422.8 301.1V320.5M313.9 333.9H405.0M313.9 324.2V343.6M405.0 324.2V343.6M299.3 357.0H395.1M299.3 347.3V366.7M395.1 347.3V366.7M266.5 380.1H364.7M266.5 370.4V389.8M364.7 370.4V389.8" stroke="#87CEEB" stroke-width="5.6" fill="none"/>
<polyline points="476.0,149.1 450.2,172.2 413.7,195.3 381.0,218.4 359.6,241.5 367.0,264.6 385.8,287.7 384.9,310.8 370.8,333.9 356.0,357.0 328.0,380.1" stroke="#87CEEB" stroke-width="3.2" fill="none"/></g>
<path d="M359.4 388.5C359.7 384.6 360.7 372.6 361.4 365.1C362.1 357.6 362.7 350.6 363.6 343.4C364.5 336.2 365.7 328.9 366.9 321.7C368.1 314.5 369.3 306.7 370.7 300.0C372.1 293.3 373.4 287.5 375.1 281.7C376.8 275.9 378.6 270.6 380.8 265.3C383.1 260.0 385.7 255.0 388.6 249.9C391.5 244.8 394.5 239.4 398.2 234.5C401.9 229.6 407.2 224.3 410.7 220.5C414.2 216.7 414.6 216.4 419.3 211.7C424.0 207.0 432.2 198.4 438.6 192.4C445.0 186.4 451.0 181.0 457.8 175.5C464.6 170.0 472.5 164.2 479.3 159.2C486.1 154.1 492.2 149.6 498.6 145.2C505.0 140.8 511.0 137.0 517.8 132.7C524.6 128.4 532.5 123.4 539.3 119.2C546.1 115.0 551.9 111.4 558.6 107.6C565.3 103.8 575.8 98.3 579.3 96.5" stroke="#32CD32" stroke-width="6.2" fill="none" clip-path="url(#cu)"/>
</svg></body></html>
